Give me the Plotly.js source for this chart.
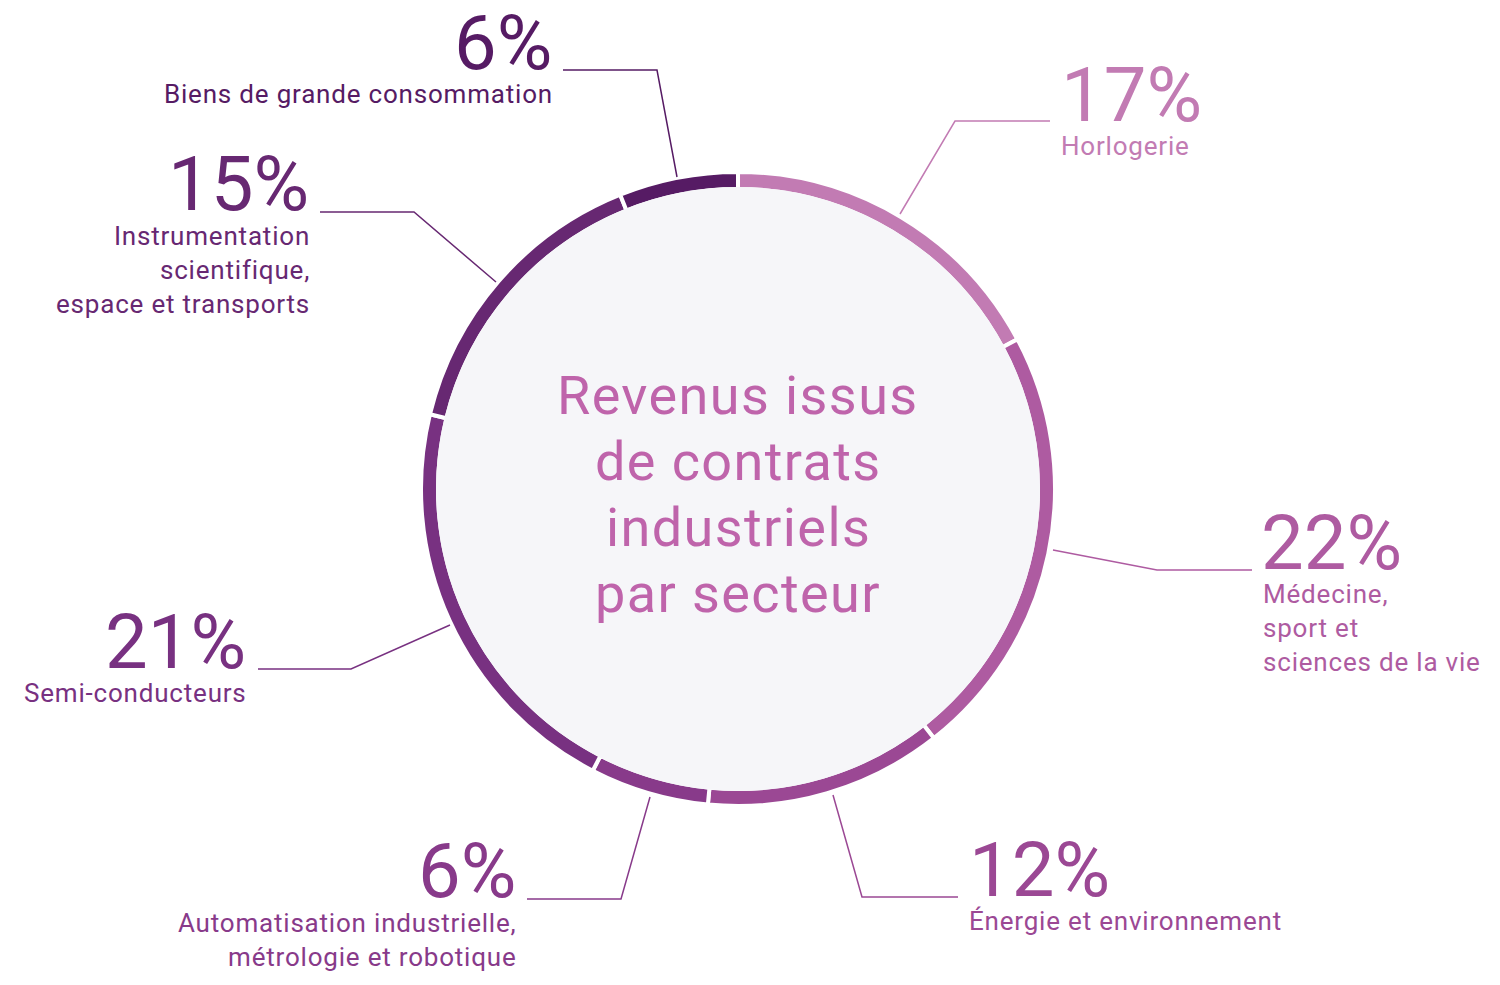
<!DOCTYPE html>
<html>
<head>
<meta charset="utf-8">
<script src="https://cdn.plot.ly/plotly-3.0.1.min.js"></script>
<style>html,body{margin:0;padding:0;background:#fff;}#chart{width:1500px;height:985px;}</style>
</head>
<body>
<div id="chart"></div>
<script>
// ---- data ----
const sectors = [
  "Horlogerie",
  "Médecine,<br>sport et<br>sciences de la vie",
  "Énergie et environnement",
  "Automatisation industrielle,<br>métrologie et robotique",
  "Semi-conducteurs",
  "Instrumentation<br>scientifique,<br>espace et transports",
  "Biens de grande consommation"
];
const shares = [17, 22, 12, 6, 21, 15, 6];
const centerTitle = ["Revenus issus", "de contrats", "industriels", "par secteur"];

// ---- styles ----
const colors = ["#c27bb3", "#ae5ba1", "#9b4894", "#883a8a", "#783181", "#672872", "#561b64"];
const W = 1500, H = 985;
const CX = 738, CY = 489;
const R_OUT = 317, R_IN = 300, R_FILL = 302;
const X = p => p / W;
const Y = p => 1 - p / H;
const spaced = (t, ls) => t.split("<br>").map(l => '<span style="letter-spacing:' + ls + 'px">' + l + '</span>').join("<br>");

// label placement (pixels): big number anchor, label anchor, leader polyline
const place = [
  {anchor: "left",  nx: 1060, ny: 95,  lx: 1060, ly: 146, leader: [[900,214],[955,121],[1050,121]]},
  {anchor: "left",  nx: 1260, ny: 543, lx: 1262, ly: 628, leader: [[1053,550],[1157,570],[1252,570]]},
  {anchor: "left",  nx: 968,  ny: 870, lx: 968,  ly: 921, leader: [[833,795],[862,897],[958,897]]},
  {anchor: "right", nx: 517,  ny: 871, lx: 518,  ly: 940, leader: [[650,797],[621,899],[527,899]]},
  {anchor: "right", nx: 247,  ny: 642, lx: 248,  ly: 693, leader: [[450,625],[351,669],[258,669]]},
  {anchor: "right", nx: 310,  ny: 184, lx: 311,  ly: 270, leader: [[496,282],[414,212],[320,212]]},
  {anchor: "right", nx: 553,  ny: 43,  lx: 554,  ly: 94,  leader: [[677,177],[657,70],[563,70]]}
];
const centerLineY = [395, 461, 527, 593];

const trace = {
  type: "pie",
  values: shares,
  labels: sectors,
  sort: false,
  direction: "clockwise",
  rotation: 0,
  hole: R_IN / R_OUT,
  textinfo: "none",
  hoverinfo: "none",
  showlegend: false,
  marker: {colors: colors, line: {color: "#ffffff", width: 4}},
  domain: {x: [X(CX - R_OUT), X(CX + R_OUT)], y: [Y(CY + R_OUT), Y(CY - R_OUT)]}
};

const shapes = [{
  type: "circle", xref: "paper", yref: "paper", layer: "above",
  x0: X(CX - R_FILL), x1: X(CX + R_FILL), y0: Y(CY + R_FILL), y1: Y(CY - R_FILL),
  fillcolor: "#f6f6f9", line: {width: 0}
}];
const annotations = centerTitle.map((line, k) => ({
  xref: "paper", yref: "paper", x: X(CX), y: Y(centerLineY[k]), xanchor: "center", yanchor: "middle",
  text: spaced(line, 1.4), showarrow: false, borderpad: 0,
  font: {family: "Roboto", size: 54, color: "#bf64ab"}, align: "center"
}));

sectors.forEach((s, i) => {
  const p = place[i];
  const path = p.leader.map((pt, k) => (k ? "L" : "M") + X(pt[0]) + "," + Y(pt[1])).join(" ");
  shapes.push({type: "path", xref: "paper", yref: "paper", layer: "above", path: path,
    line: {color: colors[i], width: 1.5}});
  annotations.push({
    xref: "paper", yref: "paper", x: X(p.nx), y: Y(p.ny), xanchor: p.anchor, yanchor: "middle",
    text: shares[i] + "%", showarrow: false, borderpad: 0,
    font: {family: "Roboto", size: 76, color: colors[i]}
  });
  annotations.push({
    xref: "paper", yref: "paper", x: X(p.lx), y: Y(p.ly), xanchor: p.anchor, yanchor: "middle",
    text: spaced(s, 0.8), showarrow: false, borderpad: 0, align: p.anchor,
    font: {family: "Roboto", size: 26, color: colors[i]}
  });
});

const layout = {
  width: W, height: H,
  margin: {l: 0, r: 0, t: 0, b: 0},
  paper_bgcolor: "#ffffff",
  plot_bgcolor: "#ffffff",
  shapes: shapes,
  annotations: annotations
};

Plotly.newPlot("chart", [trace], layout, {displayModeBar: false, staticPlot: true});
</script>
</body>
</html>
